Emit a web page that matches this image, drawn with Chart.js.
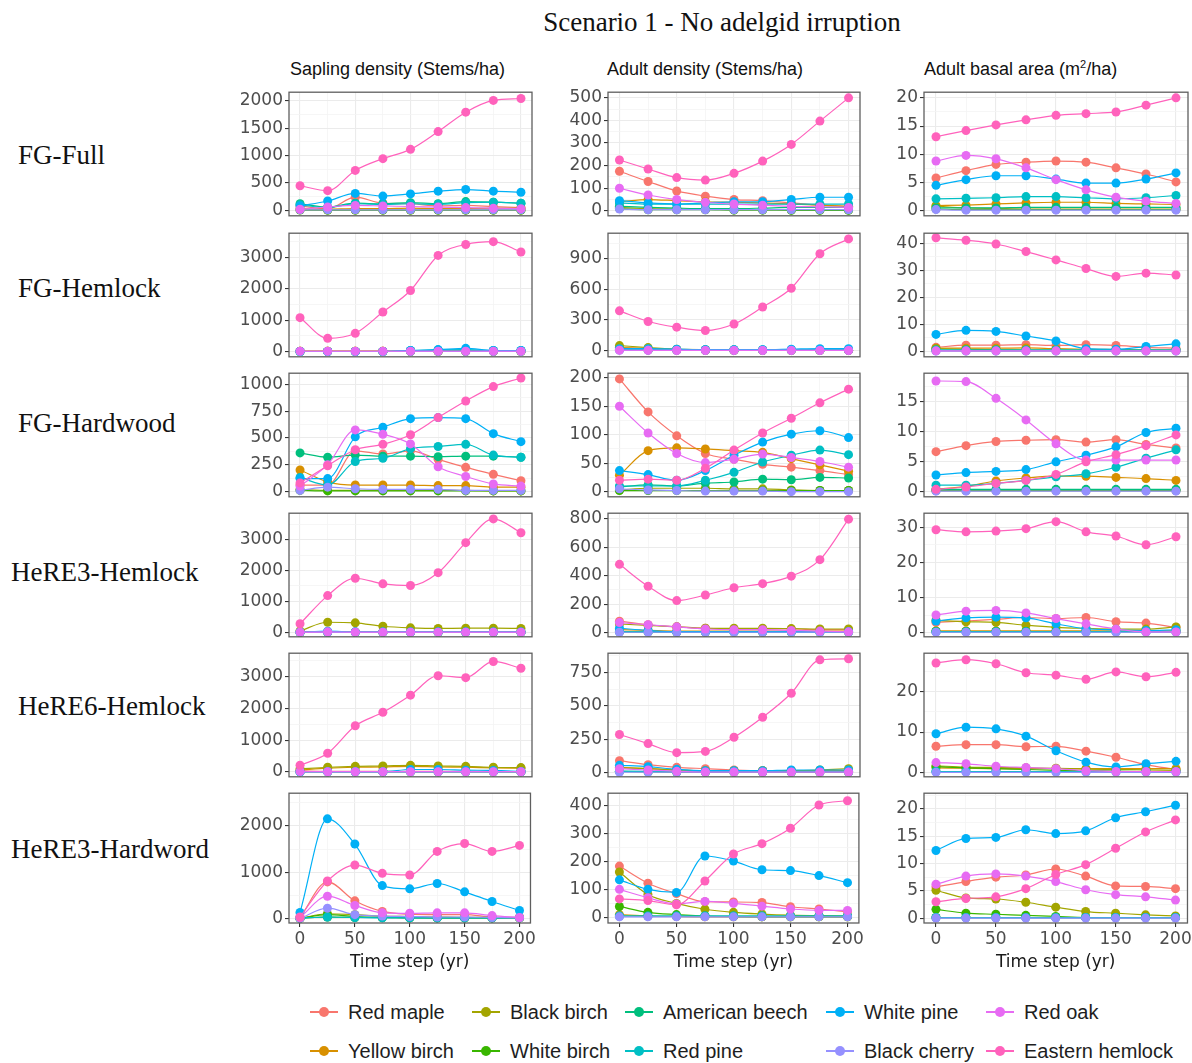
<!DOCTYPE html>
<html>
<head>
<meta charset="utf-8">
<script src="https://cdn.jsdelivr.net/npm/chart.js@4.4.1/dist/chart.umd.min.js"></script>
<style>
  body { margin: 0; background: #fff; width: 1192px; height: 1063px; position: relative; overflow: hidden; }
  canvas { position: absolute; }
  .serif { position: absolute; font-family: 'Liberation Serif', 'Times New Roman', serif; color: #111; white-space: nowrap; }
  .sans { position: absolute; font-family: 'Liberation Sans', Arial, sans-serif; color: #111; white-space: nowrap; }
  .title { font-size: 27px; line-height: 30px; top: 7px; left: 722px; transform: translateX(-50%); }
  .head { font-size: 18px; line-height: 20px; top: 59px; }
  .head sup { font-size: 11px; line-height: 0; vertical-align: 7px; }
  .rowlab { font-size: 27px; line-height: 30px; }
  .leg { font-size: 20px; line-height: 24px; color: #1e1e1e; }
  .legline { position: absolute; height: 1.4px; width: 28px; }
  .legdot { position: absolute; width: 10px; height: 10px; border-radius: 50%; }
</style>
</head>
<body>
<div class="serif title">Scenario 1 - No adelgid irruption</div>
<div class="sans head" style="left:290px">Sapling density (Stems/ha)</div>
<div class="sans head" style="left:607px">Adult density (Stems/ha)</div>
<div class="sans head" style="left:924px">Adult basal area (m<sup>2</sup>/ha)</div>
<script>
const years = [0, 25, 50, 75, 100, 125, 150, 175, 200];
const species = ['Red maple', 'Yellow birch', 'Black birch', 'White birch', 'American beech',
                 'Red pine', 'White pine', 'Black cherry', 'Red oak', 'Eastern hemlock'];
const colors = ['#F8766D', '#D89000', '#A3A500', '#39B600', '#00BF7D',
                '#00BFC4', '#00B0F6', '#9590FF', '#E76BF3', '#FF62BC'];
const rowNames = ['FG-Full', 'FG-Hemlock', 'FG-Hardwood', 'HeRE3-Hemlock', 'HeRE6-Hemlock', 'HeRE3-Hardword'];

// each panel: one row per species, in the order of `species`
const saplingFGFull = [
  [80, 30, 240, 130, 120, 80, 90, 70, 50],
  [30, 20, 30, 30, 40, 30, 30, 40, 40],
  [10, 5, 5, 5, 5, 5, 5, 5, 5],
  [5, 3, 3, 3, 3, 3, 3, 3, 3],
  [120, 60, 130, 120, 140, 120, 160, 150, 130],
  [100, 50, 120, 110, 120, 110, 140, 150, 130],
  [80, 170, 310, 260, 300, 350, 380, 350, 330],
  [10, 10, 10, 10, 10, 10, 10, 10, 10],
  [20, 60, 90, 80, 70, 60, 50, 40, 30],
  [450, 360, 730, 945, 1115, 1440, 1795, 2010, 2045]
];
const saplingFGHemlock = [
  [5, 5, 5, 5, 5, 5, 5, 5, 5],
  [5, 5, 5, 5, 5, 5, 5, 5, 5],
  [10, 10, 10, 10, 10, 10, 10, 10, 10],
  [0, 0, 0, 0, 0, 0, 0, 0, 0],
  [0, 0, 0, 0, 20, 40, 40, 20, 20],
  [0, 0, 0, 0, 30, 50, 60, 30, 30],
  [0, 0, 0, 0, 30, 60, 100, 30, 30],
  [0, 0, 0, 0, 0, 0, 0, 0, 0],
  [10, 10, 10, 10, 10, 10, 10, 10, 10],
  [1080, 420, 580, 1260, 1950, 3070, 3420, 3510, 3180]
];
const saplingFGHardwood = [
  [60, 60, 380, 350, 380, 300, 225, 160, 100],
  [200, 90, 60, 60, 60, 55, 55, 40, 40],
  [20, 10, 10, 10, 10, 10, 10, 5, 5],
  [10, 5, 5, 5, 5, 5, 5, 5, 5],
  [360, 320, 340, 330, 330, 325, 330, 330, 320],
  [130, 60, 280, 310, 400, 420, 440, 340, 320],
  [120, 120, 510, 600, 680, 690, 680, 540, 465],
  [10, 40, 25, 20, 20, 20, 10, 10, 10],
  [50, 250, 575, 535, 444, 231, 140, 70, 50],
  [80, 240, 390, 440, 530, 690, 845, 980, 1060]
];
const saplingH3Hemlock = [
  [20, 20, 20, 20, 20, 20, 20, 20, 20],
  [10, 10, 10, 10, 10, 10, 10, 10, 10],
  [50, 330, 310, 200, 150, 130, 140, 140, 130],
  [5, 5, 5, 5, 5, 5, 5, 5, 5],
  [5, 5, 5, 5, 5, 5, 5, 5, 5],
  [5, 5, 5, 5, 5, 5, 5, 5, 5],
  [10, 40, 20, 20, 20, 20, 20, 20, 20],
  [5, 5, 5, 5, 5, 5, 5, 5, 5],
  [10, 20, 10, 10, 10, 10, 10, 10, 10],
  [280, 1190, 1750, 1570, 1515, 1930, 2900, 3665, 3220]
];
const saplingH6Hemlock = [
  [30, 20, 20, 20, 20, 20, 20, 20, 10],
  [60, 120, 150, 160, 180, 160, 150, 130, 120],
  [100, 150, 180, 190, 210, 190, 180, 150, 140],
  [5, 5, 5, 5, 5, 5, 5, 5, 5],
  [10, 10, 10, 10, 10, 10, 10, 10, 10],
  [10, 10, 10, 10, 10, 10, 10, 10, 10],
  [10, 10, 10, 10, 80, 80, 60, 50, 20],
  [5, 5, 5, 5, 5, 5, 5, 5, 5],
  [20, 10, 10, 10, 10, 10, 10, 10, 10],
  [215, 590, 1455, 1880, 2420, 3030, 2970, 3480, 3265]
];
const saplingH3Hardwood = [
  [20, 790, 380, 150, 90, 80, 80, 30, 20],
  [10, 30, 20, 20, 10, 10, 10, 10, 10],
  [0, 100, 80, 50, 40, 30, 20, 20, 10],
  [0, 80, 40, 20, 20, 10, 10, 10, 10],
  [5, 30, 20, 20, 10, 10, 10, 10, 10],
  [5, 30, 20, 10, 10, 10, 10, 10, 10],
  [130, 2155, 1610, 710, 640, 755, 575, 365, 170],
  [0, 220, 80, 50, 40, 30, 30, 20, 10],
  [20, 480, 280, 120, 110, 120, 120, 60, 20],
  [30, 810, 1155, 975, 940, 1450, 1620, 1450, 1580]
];

const adultFGFull = [
  [175, 130, 88, 65, 50, 45, 35, 25, 20],
  [40, 50, 45, 40, 38, 35, 30, 25, 20],
  [15, 10, 8, 6, 5, 5, 5, 5, 5],
  [10, 5, 5, 5, 3, 3, 2, 2, 2],
  [20, 15, 12, 10, 10, 12, 15, 15, 15],
  [35, 30, 30, 30, 30, 30, 30, 30, 30],
  [45, 35, 30, 35, 40, 40, 50, 60, 60],
  [8, 5, 5, 5, 5, 5, 5, 5, 5],
  [100, 70, 50, 38, 30, 25, 20, 18, 15],
  [225, 185, 147, 136, 166, 220, 294, 397, 500]
];
const adultFGHemlock = [
  [30, 20, 10, 5, 5, 5, 5, 5, 5],
  [30, 20, 10, 5, 5, 5, 5, 5, 5],
  [50, 30, 15, 10, 8, 5, 5, 5, 5],
  [10, 5, 3, 2, 2, 2, 2, 2, 2],
  [10, 8, 5, 5, 5, 5, 5, 5, 5],
  [10, 10, 10, 10, 10, 10, 10, 10, 10],
  [20, 20, 15, 10, 10, 10, 15, 20, 20],
  [3, 3, 3, 3, 3, 3, 3, 3, 3],
  [5, 3, 2, 2, 2, 2, 2, 2, 2],
  [390, 286, 230, 197, 261, 427, 611, 949, 1094]
];
const adultFGHardwood = [
  [198, 140, 98, 67, 57, 48, 43, 37, 30],
  [29, 72, 77, 75, 72, 69, 58, 47, 36],
  [3, 6, 6, 6, 5, 5, 3, 2, 2],
  [2, 2, 2, 2, 2, 2, 2, 2, 2],
  [8, 12, 10, 15, 17, 22, 21, 25, 24],
  [10, 10, 10, 20, 34, 52, 64, 73, 65],
  [37, 30, 20, 37, 64, 87, 101, 107, 95],
  [5, 3, 2, 1, 1, 1, 0, 0, 0],
  [150, 103, 67, 51, 57, 66, 60, 53, 43],
  [20, 22, 20, 41, 73, 103, 129, 156, 180]
];
const adultH3Hemlock = [
  [80, 55, 40, 30, 25, 25, 25, 20, 20],
  [20, 15, 10, 10, 10, 10, 10, 10, 10],
  [60, 50, 40, 30, 30, 30, 28, 25, 25],
  [5, 3, 2, 2, 2, 2, 2, 2, 2],
  [5, 5, 5, 5, 5, 5, 5, 5, 5],
  [5, 5, 5, 5, 5, 5, 5, 5, 5],
  [30, 15, 5, 5, 5, 5, 5, 5, 5],
  [2, 2, 2, 2, 2, 2, 2, 2, 2],
  [70, 55, 40, 25, 20, 20, 15, 10, 5],
  [480, 326, 225, 264, 315, 344, 397, 513, 798]
];
const adultH6Hemlock = [
  [90, 60, 40, 30, 20, 15, 15, 10, 10],
  [40, 30, 20, 15, 15, 15, 15, 15, 15],
  [35, 30, 20, 15, 15, 15, 15, 20, 30],
  [10, 5, 3, 2, 2, 2, 2, 2, 2],
  [10, 8, 5, 5, 5, 5, 5, 5, 5],
  [10, 10, 10, 10, 10, 10, 10, 10, 10],
  [55, 45, 25, 15, 15, 15, 20, 20, 20],
  [3, 3, 3, 3, 3, 3, 3, 3, 3],
  [30, 20, 10, 5, 5, 5, 5, 5, 5],
  [286, 218, 150, 159, 265, 415, 595, 845, 853]
];
const adultH3Hardwood = [
  [183, 122, 85, 56, 55, 53, 38, 30, 20],
  [10, 5, 3, 2, 2, 2, 2, 2, 2],
  [162, 82, 50, 29, 18, 12, 8, 6, 5],
  [39, 18, 10, 5, 3, 2, 2, 2, 2],
  [5, 5, 5, 5, 5, 5, 5, 5, 5],
  [5, 5, 5, 5, 5, 5, 5, 5, 5],
  [134, 100, 89, 219, 201, 170, 167, 149, 124],
  [2, 2, 2, 2, 2, 2, 2, 2, 2],
  [100, 70, 48, 57, 50, 40, 30, 25, 25],
  [66, 60, 45, 130, 226, 263, 318, 401, 416]
];

const basalFGFull = [
  [5.8, 7.1, 8.2, 8.6, 8.8, 8.6, 7.6, 6.5, 5.1],
  [0.9, 1.0, 1.2, 1.4, 1.5, 1.5, 1.3, 1.2, 1.1],
  [0.8, 0.5, 0.4, 0.3, 0.3, 0.3, 0.3, 0.3, 0.3],
  [0.3, 0.2, 0.2, 0.2, 0.2, 0.2, 0.2, 0.2, 0.2],
  [0.5, 0.5, 0.5, 0.6, 0.6, 0.6, 0.6, 0.6, 0.6],
  [2.1, 2.2, 2.3, 2.5, 2.5, 2.3, 2.1, 2.3, 2.7],
  [4.5, 5.5, 6.2, 6.2, 5.6, 4.9, 4.9, 5.6, 6.7],
  [0.2, 0.1, 0.1, 0.1, 0.1, 0.1, 0.1, 0.1, 0.1],
  [8.8, 9.8, 9.2, 7.6, 5.5, 3.7, 2.4, 1.7, 1.3],
  [13.1, 14.2, 15.2, 16.1, 16.9, 17.2, 17.5, 18.7, 20.0]
];
const basalFGHemlock = [
  [1.5, 2.3, 2.3, 2.5, 2.2, 2.5, 2.2, 1.5, 1.2],
  [1.2, 1.2, 1.2, 1.3, 1.0, 0.8, 0.7, 0.6, 0.5],
  [1.0, 0.8, 0.6, 0.5, 0.4, 0.3, 0.3, 0.3, 0.3],
  [0.3, 0.2, 0.2, 0.2, 0.2, 0.2, 0.2, 0.2, 0.2],
  [0.5, 0.5, 0.5, 0.5, 0.5, 0.5, 0.5, 0.5, 0.5],
  [0.5, 0.5, 0.5, 0.5, 0.5, 0.5, 0.5, 0.5, 0.5],
  [6.3, 7.8, 7.4, 5.7, 3.9, 1.0, 0.8, 1.8, 2.8],
  [0.1, 0.1, 0.1, 0.1, 0.1, 0.1, 0.1, 0.1, 0.1],
  [0.2, 0.2, 0.2, 0.2, 0.2, 0.2, 0.2, 0.2, 0.2],
  [42.1, 41.2, 39.8, 37.0, 33.9, 30.7, 27.8, 29.0, 28.3]
];
const basalFGHardwood = [
  [6.6, 7.6, 8.3, 8.5, 8.6, 8.2, 8.6, 7.8, 7.2],
  [0.3, 0.8, 1.7, 2.2, 2.5, 2.5, 2.3, 2.1, 1.8],
  [0.1, 0.1, 0.1, 0.1, 0.1, 0.1, 0.1, 0.1, 0.1],
  [0.1, 0.1, 0.1, 0.1, 0.1, 0.1, 0.1, 0.1, 0.1],
  [0.3, 0.3, 0.3, 0.3, 0.3, 0.3, 0.3, 0.3, 0.3],
  [1.0, 1.0, 1.3, 1.8, 2.4, 2.9, 4.0, 5.5, 6.9],
  [2.7, 3.1, 3.3, 3.6, 4.9, 6.0, 7.4, 9.8, 10.5],
  [0.0, 0.0, 0.0, 0.0, 0.0, 0.0, 0.0, 0.0, 0.0],
  [18.4, 18.3, 15.5, 11.9, 7.9, 5.2, 5.2, 5.2, 5.2],
  [0.3, 0.7, 1.3, 1.8, 2.8, 4.9, 6.1, 7.6, 9.4]
];
const basalH3Hemlock = [
  [2.9, 3.3, 3.8, 4.3, 4.0, 4.3, 3.1, 2.7, 1.5],
  [0.5, 0.5, 0.5, 0.5, 0.5, 0.5, 0.5, 0.5, 0.5],
  [3.5, 3.1, 2.9, 2.1, 1.5, 1.2, 1.0, 1.0, 1.6],
  [0.3, 0.3, 0.3, 0.3, 0.3, 0.3, 0.3, 0.3, 0.3],
  [0.3, 0.3, 0.3, 0.3, 0.3, 0.3, 0.3, 0.3, 0.3],
  [0.2, 0.2, 0.2, 0.2, 0.2, 0.2, 0.2, 0.2, 0.2],
  [3.3, 4.2, 4.4, 4.2, 2.5, 1.1, 0.8, 0.6, 0.8],
  [0.1, 0.1, 0.1, 0.1, 0.1, 0.1, 0.1, 0.1, 0.1],
  [5.0, 6.1, 6.3, 5.6, 4.0, 2.5, 1.0, 0.2, 0.2],
  [29.3, 28.7, 28.9, 29.6, 31.6, 28.7, 27.5, 25.0, 27.3]
];
const basalH6Hemlock = [
  [6.5, 6.9, 6.9, 6.4, 6.5, 5.3, 3.8, 2.0, 0.8],
  [1.2, 1.1, 1.0, 1.0, 1.0, 1.0, 1.0, 1.0, 1.0],
  [1.7, 1.4, 1.3, 1.2, 1.1, 0.9, 0.8, 0.7, 0.6],
  [1.5, 1.2, 1.0, 0.8, 0.6, 0.5, 0.4, 0.3, 0.3],
  [0.3, 0.3, 0.3, 0.3, 0.3, 0.3, 0.3, 0.3, 0.3],
  [0.3, 0.3, 0.3, 0.3, 0.3, 0.3, 0.3, 0.3, 0.3],
  [9.6, 11.2, 10.8, 9.0, 5.4, 2.6, 1.4, 2.2, 2.8],
  [0.1, 0.1, 0.1, 0.1, 0.1, 0.1, 0.1, 0.1, 0.1],
  [2.5, 2.2, 1.6, 1.3, 1.0, 0.5, 0.3, 0.3, 0.3],
  [27.0, 27.8, 26.8, 24.6, 24.0, 23.0, 24.8, 23.6, 24.7]
];
const basalH3Hardwood = [
  [5.7, 6.7, 7.5, 7.9, 9.0, 7.7, 5.9, 5.8, 5.4],
  [0.1, 0.1, 0.1, 0.1, 0.1, 0.1, 0.1, 0.1, 0.1],
  [5.1, 3.7, 3.5, 2.9, 2.0, 1.2, 0.9, 0.6, 0.4],
  [1.6, 0.9, 0.7, 0.5, 0.3, 0.1, 0.1, 0.1, 0.1],
  [0.1, 0.1, 0.1, 0.1, 0.1, 0.1, 0.1, 0.1, 0.1],
  [0.1, 0.1, 0.1, 0.1, 0.1, 0.1, 0.1, 0.1, 0.1],
  [12.4, 14.6, 14.8, 16.2, 15.5, 16.0, 18.4, 19.5, 20.7],
  [0.0, 0.0, 0.0, 0.0, 0.0, 0.0, 0.0, 0.0, 0.0],
  [6.2, 7.7, 8.1, 7.7, 6.7, 5.2, 4.3, 3.9, 3.3],
  [3.0, 3.6, 3.9, 5.4, 8.0, 9.8, 12.8, 15.8, 18.0]
];

const panels = [
  [saplingFGFull, adultFGFull, basalFGFull],
  [saplingFGHemlock, adultFGHemlock, basalFGHemlock],
  [saplingFGHardwood, adultFGHardwood, basalFGHardwood],
  [saplingH3Hemlock, adultH3Hemlock, basalH3Hemlock],
  [saplingH6Hemlock, adultH6Hemlock, basalH6Hemlock],
  [saplingH3Hardwood, adultH3Hardwood, basalH3Hardwood]
];
// [min, max, major step] for each panel's y axis
const yAxes = [
  [[-100, 2160, 500], [-22, 525, 100], [-0.9, 21, 5]],
  [[-170, 3780, 1000], [-60, 1150, 300], [-2, 43.8, 10]],
  [[-50, 1105, 250], [-9, 208, 50], [-0.94, 19.7, 5]],
  [[-140, 3850, 1000], [-30, 840, 200], [-1.2, 34, 10]],
  [[-150, 3740, 1000], [-31, 895, 250], [-1, 29.4, 10]],
  [[-100, 2710, 1000], [-20, 443, 100], [-0.9, 22.9, 5]]
];

Chart.defaults.font.family = "'DejaVu Sans', sans-serif";

const colLeft = [289, 608, 924];
const colWidth = [243, 252, 264];
const rowTop = [90, 231, 371, 511, 651, 791];
const rowLabelY = [155, 288, 423, 572, 706, 849];
const rowLabelX = [18, 18, 18, 11, 18, 11];
const panelH = 132;
const AXIS_W = 70, PAD_T = 10, PAD_R = 6, PAD_B = 6;

function isMajor(v, step) {
  const q = v / step;
  return Math.abs(q - Math.round(q)) < 1e-6;
}

const panelBorder = {
  id: 'panelBorder',
  afterDraw(chart) {
    const { ctx, chartArea: a } = chart;
    ctx.save();
    ctx.strokeStyle = '#5f5f5f';
    ctx.lineWidth = 1.3;
    ctx.strokeRect(a.left, a.top, a.right - a.left, a.bottom - a.top);
    ctx.restore();
  }
};

rowTop.forEach((top, r) => {
  const lab = document.createElement('div');
  lab.className = 'serif rowlab';
  lab.textContent = rowNames[r];
  lab.style.left = rowLabelX[r] + 'px';
  lab.style.top = (rowLabelY[r] - 15) + 'px';
  document.body.appendChild(lab);

  colLeft.forEach((left, c) => {
    const bottomRow = r === rowTop.length - 1;
    const xH = bottomRow ? 50 : 0;
    const cv = document.createElement('canvas');
    cv.width = AXIS_W + colWidth[c] + PAD_R;
    cv.height = PAD_T + panelH + xH + PAD_B;
    cv.style.left = (left - AXIS_W) + 'px';
    cv.style.top = (top - PAD_T) + 'px';
    document.body.appendChild(cv);

    const [ymin, ymax, ystep] = yAxes[r][c];
    const yTickVals = [];
    for (let v = 0; v <= ymax + 1e-9; v += ystep / 2) yTickVals.push(Math.round(v * 1000) / 1000);

    new Chart(cv, {
      type: 'line',
      data: {
        datasets: panels[r][c].map((vals, i) => ({
          label: species[i],
          data: years.map((x, k) => ({ x: x, y: vals[k] })),
          borderColor: colors[i],
          backgroundColor: colors[i],
          pointBackgroundColor: colors[i],
          pointBorderWidth: 0,
          pointRadius: 4.5,
          borderWidth: 1.2,
          cubicInterpolationMode: 'monotone',
          order: 9 - i
        }))
      },
      options: {
        responsive: false,
        animation: false,
        events: [],
        layout: { autoPadding: false, padding: { top: PAD_T, right: PAD_R, bottom: PAD_B, left: 0 } },
        plugins: { legend: { display: false }, tooltip: { enabled: false } },
        scales: {
          x: {
            type: 'linear', min: -10, max: 210,
            afterBuildTicks: s => { s.ticks = years.map(v => ({ value: v })); },
            afterFit: s => { s.height = xH; },
            border: { display: false },
            grid: {
              color: ctx => (ctx.tick && isMajor(ctx.tick.value, 50)) ? '#EBEBEB' : '#F4F4F4',
              lineWidth: ctx => (ctx.tick && isMajor(ctx.tick.value, 50)) ? 1.1 : 0.8,
              drawTicks: bottomRow, tickLength: 4,
              tickColor: ctx => (ctx.tick && isMajor(ctx.tick.value, 50)) ? '#333' : 'rgba(0,0,0,0)'
            },
            ticks: {
              display: bottomRow, autoSkip: false, maxRotation: 0, padding: 2,
              color: '#4D4D4D', font: { size: 17 },
              callback: v => isMajor(v, 50) ? String(v) : ''
            },
            title: {
              display: bottomRow, text: 'Time step (yr)', color: '#1a1a1a',
              font: { size: 17 }, padding: { top: 1, bottom: 0 }
            }
          },
          y: {
            min: ymin, max: ymax,
            afterBuildTicks: s => { s.ticks = yTickVals.map(v => ({ value: v })); },
            afterFit: s => { s.width = AXIS_W; },
            border: { display: false },
            grid: {
              color: ctx => (ctx.tick && isMajor(ctx.tick.value, ystep)) ? '#EBEBEB' : '#F4F4F4',
              lineWidth: ctx => (ctx.tick && isMajor(ctx.tick.value, ystep)) ? 1.1 : 0.8,
              tickLength: 4,
              tickColor: ctx => (ctx.tick && isMajor(ctx.tick.value, ystep)) ? '#333' : 'rgba(0,0,0,0)'
            },
            ticks: {
              autoSkip: false, padding: 2, color: '#4D4D4D', font: { size: 17 },
              callback: v => isMajor(v, ystep) ? String(v) : ''
            }
          }
        }
      },
      plugins: [panelBorder]
    });
  });
});

// legend: two rows, filled column by column
const legTextX = [348, 510, 663, 864, 1024];
const legRowY = [1012, 1051];
species.forEach((name, i) => {
  const col = Math.floor(i / 2), row = i % 2;
  const tx = legTextX[col], cy = legRowY[row];
  const line = document.createElement('div');
  line.className = 'legline';
  line.style.background = colors[i];
  line.style.left = (tx - 38) + 'px';
  line.style.top = (cy - 0.7) + 'px';
  document.body.appendChild(line);
  const dot = document.createElement('div');
  dot.className = 'legdot';
  dot.style.background = colors[i];
  dot.style.left = (tx - 29) + 'px';
  dot.style.top = (cy - 5) + 'px';
  document.body.appendChild(dot);
  const t = document.createElement('div');
  t.className = 'sans leg';
  t.textContent = name;
  t.style.left = tx + 'px';
  t.style.top = (cy - 12) + 'px';
  document.body.appendChild(t);
});
</script>
</body>
</html>
